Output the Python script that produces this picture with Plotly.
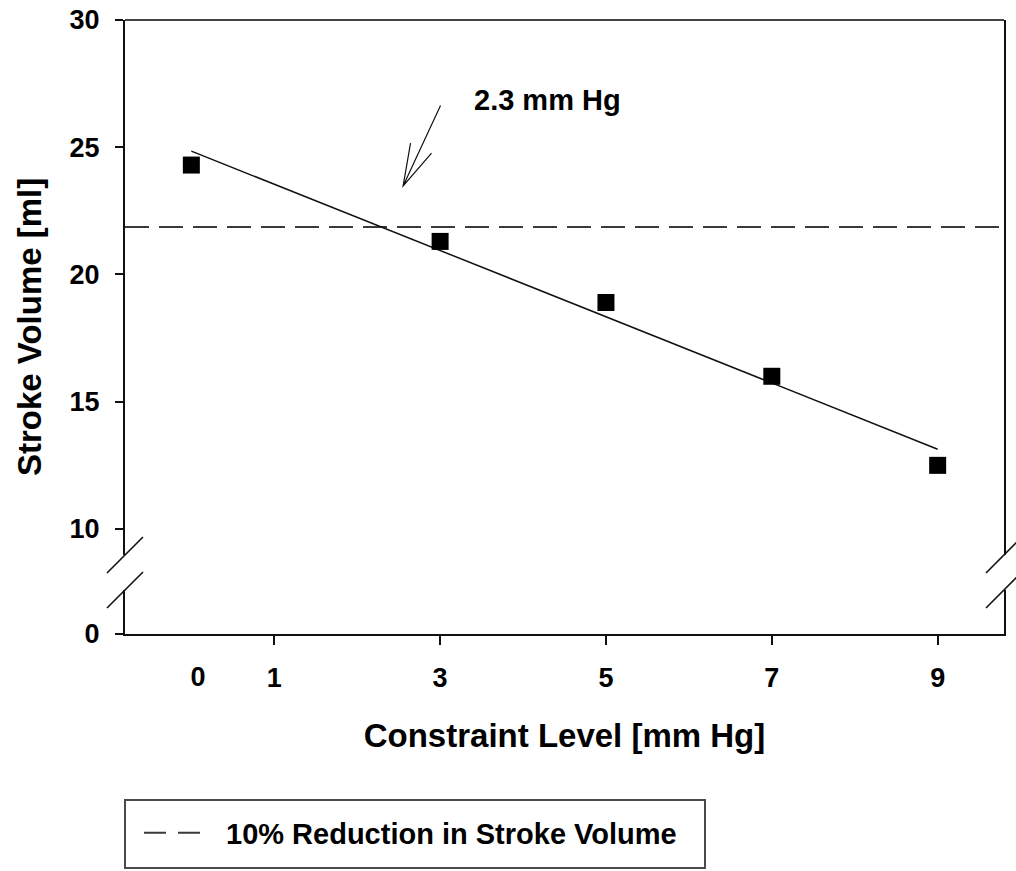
import numpy as np
import plotly.graph_objects as go

# Stroke volume measured at each constraint level
constraint_mmhg = [0, 3, 5, 7, 9]
stroke_volume_ml = [24.3, 21.3, 18.9, 16.0, 12.5]

x_tick_vals = [1, 3, 5, 7, 9]
upper_tick_vals = [10, 15, 20, 25, 30]
lower_tick_vals = [0]

FONT = "Arial, Liberation Sans, sans-serif"
INK = "#111111"

# Least-squares fit and the 10 % reduction threshold
slope, intercept = np.polyfit(constraint_mmhg, stroke_volume_ml, 1)
threshold = 0.9 * stroke_volume_ml[0]
crossing = (threshold - intercept) / slope

x_range = [-0.8, 9.8]
fit_x = np.array([constraint_mmhg[0], constraint_mmhg[-1]])
fit_y = intercept + slope * fit_x

# broken y axis: main panel above, short panel holding zero below
upper_dom = [0.1287, 1.0]
lower_dom = [0.0, 0.0717]
gap_mid = (upper_dom[0] + lower_dom[1]) / 2

fig = go.Figure()

fig.add_trace(go.Scatter(
    x=x_range, y=[threshold, threshold], mode="lines",
    line=dict(color="#3a3a3a", width=2, dash="24px,10px"),
    showlegend=False, xaxis="x", yaxis="y",
))
# legend key for the threshold line (two dashes)
fig.add_trace(go.Scatter(
    x=[None], y=[None], mode="lines",
    line=dict(color="#3a3a3a", width=2, dash="22px,12px,22px,300px"),
    name="10% Reduction in Stroke Volume", showlegend=True,
    xaxis="x", yaxis="y",
))
fig.add_trace(go.Scatter(
    x=fit_x, y=fit_y, mode="lines",
    line=dict(color=INK, width=1.5), showlegend=False,
    xaxis="x", yaxis="y",
))
fig.add_trace(go.Scatter(
    x=constraint_mmhg, y=stroke_volume_ml, mode="markers",
    marker=dict(symbol="square", size=17, color="black"),
    showlegend=False, xaxis="x", yaxis="y",
))
# keeps the lower panel and the overlay axis rendered
fig.add_trace(go.Scatter(x=[None], y=[None], xaxis="x2", yaxis="y2",
                         showlegend=False, hoverinfo="skip"))

tick_font = dict(family=FONT, size=27, color="black", weight="bold")

fig.update_layout(
    width=1016, height=871,
    margin=dict(l=125, r=12, t=20, b=237, autoexpand=False),
    paper_bgcolor="white", plot_bgcolor="white",
    showlegend=True,
    xaxis=dict(
        domain=[0, 1], range=x_range, anchor="y2", automargin=False,
        tickvals=x_tick_vals, ticks="outside", ticklen=9, tickwidth=2,
        tickcolor=INK, showline=True, linecolor=INK, linewidth=2,
        showgrid=False, zeroline=False, tickfont=tick_font,
        ticklabelstandoff=10,
        title=dict(text="Constraint Level [mm Hg]", standoff=31,
                   font=dict(family=FONT, size=33, color="black", weight="bold")),
    ),
    xaxis2=dict(
        domain=[0, 1], range=x_range, anchor="y2", overlaying="x",
        automargin=False,
        tickvals=[0.08], ticktext=["0"], ticks="outside", ticklen=9,
        tickcolor="rgba(0,0,0,0)", showline=False, showgrid=False,
        zeroline=False, tickfont=tick_font, ticklabelstandoff=10,
    ),
    yaxis=dict(
        domain=upper_dom, range=[8.978, 30], anchor="x", automargin=False,
        tickvals=upper_tick_vals, ticks="outside", ticklen=8, tickwidth=2,
        tickcolor=INK, showline=True, mirror=True, linecolor=INK, linewidth=2,
        showgrid=False, zeroline=False, tickfont=tick_font,
        ticklabelstandoff=10,
    ),
    yaxis2=dict(
        domain=lower_dom, range=[0, 1.729], anchor="x", automargin=False,
        tickvals=lower_tick_vals, ticks="outside", ticklen=8, tickwidth=2,
        tickcolor=INK, showline=True, mirror=True, linecolor=INK, linewidth=2,
        showgrid=False, zeroline=False, tickfont=tick_font,
        ticklabelstandoff=10,
    ),
    legend=dict(
        orientation="h", x=0, xanchor="left",
        y=(634 - 833) / 614, yanchor="middle",
        borderwidth=0, bgcolor="rgba(0,0,0,0)",
        font=dict(family=FONT, size=29, color="black", weight="bold"),
        indentation=14, itemwidth=77,
    ),
)

# legend frame
fig.add_shape(type="rect", xref="paper", yref="paper",
              x0=0, x1=(705 - 125) / 879,
              y0=(634 - 800) / 614, y1=(634 - 868) / 614,
              line=dict(color="#4a4a4a", width=2), layer="below")

# top border of the plot frame
fig.add_shape(type="line", xref="paper", yref="paper", x0=0, x1=1, y0=1, y1=1,
              line=dict(color="#444444", width=2))

# axis-break slashes on both sides of the frame
for side in (0, 1):
    fig.add_shape(
        type="path", xref="paper", yref="paper",
        xsizemode="pixel", ysizemode="pixel", xanchor=side, yanchor=gap_mid,
        path="M -18 -0.5 L 18 35.5 M -18 -35.5 L 18 0.5",
        line=dict(color=INK, width=1.6),
    )

# open arrow pointing to where the fit crosses the threshold
tip_x, tip_y = 2.554, 23.48
fig.add_shape(
    type="path", xref="x", yref="y",
    xsizemode="pixel", ysizemode="pixel", xanchor=tip_x, yanchor=tip_y,
    path="M 37.4 80.3 L 0 0 M 7.4 42.7 L 0 0 L 28.4 32.7",
    line=dict(color=INK, width=1.2),
)
fig.add_annotation(
    x=tip_x, y=tip_y, xref="x", yref="y", showarrow=False,
    text=f"{crossing:.1f} mm Hg", xanchor="left", yanchor="middle",
    xshift=69, yshift=86,
    font=dict(family=FONT, size=29, color="black", weight="bold"),
)

# y-axis title centred on the whole frame
fig.add_annotation(
    x=0, y=0.5, xref="paper", yref="paper", showarrow=False,
    text="Stroke Volume [ml]", textangle=-90, xanchor="center", yanchor="middle",
    xshift=-96,
    font=dict(family=FONT, size=33, color="black", weight="bold"),
)

fig.write_html("out.html")
